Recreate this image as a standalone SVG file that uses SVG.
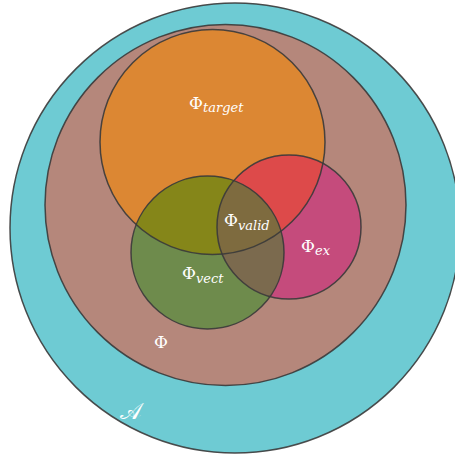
<svg xmlns="http://www.w3.org/2000/svg" width="455" height="456" viewBox="0 0 455 456">
<style>
.edge{fill:none;stroke:#3a3a3a;stroke-width:1.5;stroke-opacity:0.9}
.lab{font-family:"DejaVu Serif","Liberation Serif",serif;fill:#ffffff;font-size:17px}
.sub{font-style:italic;font-size:13px}
</style>
<defs>
<clipPath id="cO"><circle cx="212.5" cy="142" r="112.5"/></clipPath>
<clipPath id="cG"><circle cx="207.5" cy="252.5" r="76.5"/></clipPath>
<clipPath id="cP"><circle cx="289" cy="227" r="72"/></clipPath>
</defs>
<rect width="455" height="456" fill="#ffffff"/>
<g id="A">
<circle cx="235" cy="228" r="225" fill="#6ecbd3"/>
<circle class="edge" cx="235" cy="228" r="225"/>
</g>
<g id="Phi">
<circle cx="225.5" cy="205" r="180.5" fill="#b5877b"/>
<circle class="edge" cx="225.5" cy="205" r="180.5"/>
</g>
<g id="target">
<circle cx="212.5" cy="142" r="112.5" fill="#dc8733"/>
</g>
<g id="vect">
<circle cx="207.5" cy="252.5" r="76.5" fill="#6e8b4c"/>
</g>
<g id="ex">
<circle cx="289" cy="227" r="72" fill="#c54b7c"/>
</g>
<g id="overlaps">
<circle cx="207.5" cy="252.5" r="76.5" fill="#858619" clip-path="url(#cO)"/>
<circle cx="289" cy="227" r="72" fill="#dd4a4a" clip-path="url(#cO)"/>
<circle cx="289" cy="227" r="72" fill="#7b6a4e" clip-path="url(#cG)"/>
<g clip-path="url(#cO)"><circle cx="289" cy="227" r="72" fill="#7e6b3f" clip-path="url(#cG)"/></g>
</g>
<g id="outlines">
<circle class="edge" cx="212.5" cy="142" r="112.5"/>
<circle class="edge" cx="207.5" cy="252.5" r="76.5"/>
<circle class="edge" cx="289" cy="227" r="72"/>
</g>
<g id="labels">
<text class="lab" x="189" y="109">Φ<tspan class="sub" dy="3">target</tspan></text>
<text class="lab" x="224" y="226">Φ<tspan class="sub" dy="4">valid</tspan></text>
<text class="lab" x="182" y="279">Φ<tspan class="sub" dy="4">vect</tspan></text>
<text class="lab" x="301" y="252">Φ<tspan class="sub" dy="3">ex</tspan></text>
<text class="lab" x="154" y="348">Φ</text>
<text class="lab" x="120" y="419" style="font-size:23px">𝒜</text>
</g>
</svg>
